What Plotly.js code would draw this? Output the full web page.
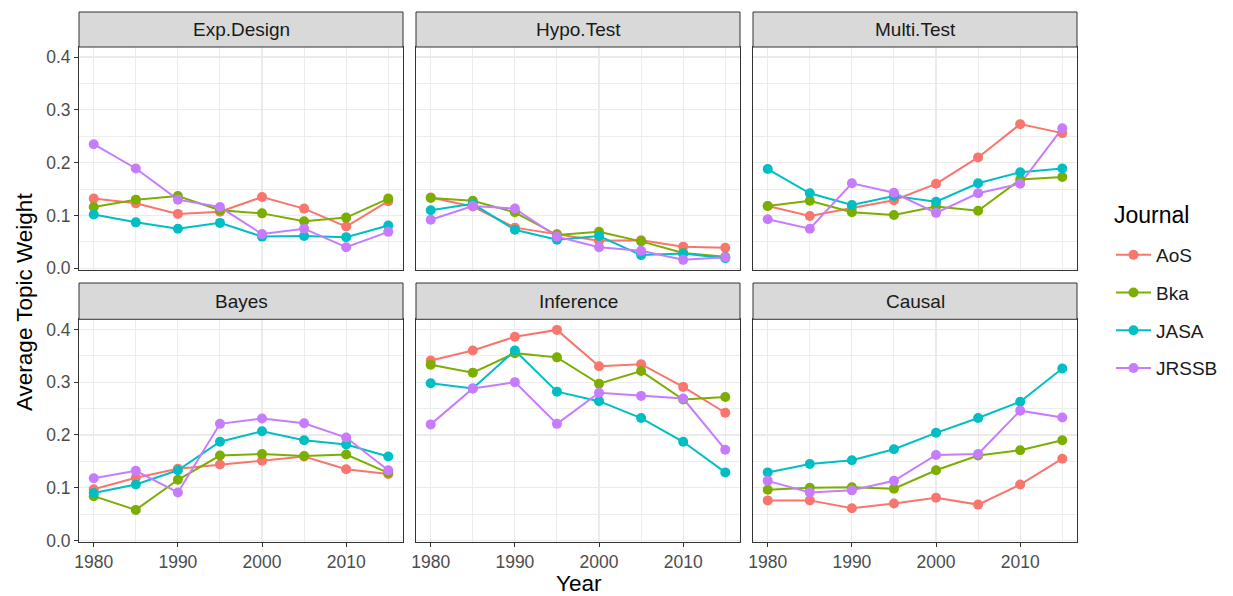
<!DOCTYPE html>
<html><head><meta charset="utf-8">
<script src="https://cdn.plot.ly/plotly-3.0.1.min.js"></script>
<style>html,body{margin:0;padding:0;background:#fff;}</style>
</head><body><div id="chart" style="width:1233px;height:596px;"></div>
<script>
// ---------- data ----------
const years = [1980, 1985, 1990, 1995, 2000, 2005, 2010, 2015];
const journals = ['AoS', 'Bka', 'JASA', 'JRSSB'];
const topics = ['Exp.Design', 'Hypo.Test', 'Multi.Test', 'Bayes', 'Inference', 'Causal'];
const yTickVals = [0, 0.1, 0.2, 0.3, 0.4];
const yTickText = ['0.0', '0.1', '0.2', '0.3', '0.4'];
const xTickVals = [1980, 1990, 2000, 2010];
const xTickText = ['1980', '1990', '2000', '2010'];

const expDesignAoS   = [0.132, 0.123, 0.103, 0.107, 0.135, 0.113, 0.079, 0.127];
const expDesignBka   = [0.116, 0.130, 0.137, 0.110, 0.104, 0.089, 0.096, 0.132];
const expDesignJASA  = [0.102, 0.087, 0.075, 0.086, 0.060, 0.061, 0.059, 0.081];
const expDesignJRSSB = [0.235, 0.189, 0.130, 0.116, 0.065, 0.075, 0.040, 0.069];

const hypoTestAoS   = [0.134, 0.117, 0.077, 0.065, 0.052, 0.053, 0.041, 0.039];
const hypoTestBka   = [0.133, 0.128, 0.106, 0.063, 0.069, 0.051, 0.029, 0.022];
const hypoTestJASA  = [0.110, 0.122, 0.073, 0.054, 0.061, 0.025, 0.028, 0.019];
const hypoTestJRSSB = [0.092, 0.118, 0.113, 0.060, 0.040, 0.033, 0.016, 0.021];

const multiTestAoS   = [0.118, 0.099, 0.114, 0.129, 0.160, 0.210, 0.273, 0.256];
const multiTestBka   = [0.118, 0.128, 0.106, 0.101, 0.117, 0.109, 0.168, 0.173];
const multiTestJASA  = [0.188, 0.142, 0.120, 0.137, 0.126, 0.161, 0.182, 0.189];
const multiTestJRSSB = [0.093, 0.075, 0.161, 0.143, 0.105, 0.142, 0.160, 0.265];

const bayesAoS   = [0.097, 0.119, 0.136, 0.144, 0.151, 0.159, 0.135, 0.126];
const bayesBka   = [0.084, 0.058, 0.115, 0.161, 0.164, 0.160, 0.163, 0.128];
const bayesJASA  = [0.090, 0.106, 0.133, 0.187, 0.207, 0.190, 0.182, 0.159];
const bayesJRSSB = [0.118, 0.132, 0.091, 0.221, 0.231, 0.222, 0.195, 0.133];

const inferenceAoS   = [0.341, 0.360, 0.386, 0.399, 0.330, 0.334, 0.291, 0.242];
const inferenceBka   = [0.333, 0.318, 0.355, 0.347, 0.297, 0.321, 0.267, 0.272];
const inferenceJASA  = [0.298, 0.288, 0.360, 0.282, 0.264, 0.232, 0.187, 0.129];
const inferenceJRSSB = [0.220, 0.288, 0.300, 0.221, 0.280, 0.274, 0.269, 0.172];

const causalAoS   = [0.076, 0.076, 0.061, 0.070, 0.081, 0.068, 0.106, 0.155];
const causalBka   = [0.096, 0.100, 0.101, 0.098, 0.133, 0.161, 0.171, 0.190];
const causalJASA  = [0.129, 0.145, 0.152, 0.173, 0.204, 0.232, 0.263, 0.326];
const causalJRSSB = [0.113, 0.091, 0.095, 0.113, 0.162, 0.164, 0.246, 0.233];

const panelData = [
  [expDesignAoS, expDesignBka, expDesignJASA, expDesignJRSSB],
  [hypoTestAoS, hypoTestBka, hypoTestJASA, hypoTestJRSSB],
  [multiTestAoS, multiTestBka, multiTestJASA, multiTestJRSSB],
  [bayesAoS, bayesBka, bayesJASA, bayesJRSSB],
  [inferenceAoS, inferenceBka, inferenceJASA, inferenceJRSSB],
  [causalAoS, causalBka, causalJASA, causalJRSSB]
];

// ---------- style / layout ----------
const colors = ['#F8766D', '#7CAE00', '#00BFC4', '#C77CFF'];
const W = 1233, H = 596;
const FONT = 'Liberation Sans, Arial, Helvetica, sans-serif';
const colPx = [[79, 403], [416, 740], [753, 1077]];
const rowPx = [[47, 269.5], [319.3, 541.7]];
const stripPx = [[12, 47], [283, 319.3]];
const px2x = p => p / W;
const px2y = p => 1 - p / H;

const traces = [];
const layout = {
  width: W, height: H,
  margin: {l: 0, r: 0, t: 0, b: 0},
  paper_bgcolor: '#ffffff', plot_bgcolor: '#ffffff',
  font: {family: FONT, color: '#4d4d4d'},
  showlegend: true,
  legend: {
    x: px2x(1111), y: px2y(236), xanchor: 'left', yanchor: 'top',
    font: {family: FONT, size: 19, color: '#1a1a1a'},
    tracegroupgap: 10, itemwidth: 35, bgcolor: 'rgba(0,0,0,0)'
  },
  shapes: [], annotations: []
};

// lines first, then points (ggplot layering)
for (let p = 0; p < 6; p++) {
  const ax = p === 0 ? '' : String(p + 1);
  for (let j = 0; j < 4; j++) {
    traces.push({
      x: years, y: panelData[p][j], xaxis: 'x' + ax, yaxis: 'y' + ax,
      type: 'scatter', mode: 'lines', name: journals[j], legendgroup: journals[j],
      showlegend: false, hoverinfo: 'skip',
      line: {color: colors[j], width: 2}
    });
  }
}
for (let p = 0; p < 6; p++) {
  const ax = p === 0 ? '' : String(p + 1);
  for (let j = 0; j < 4; j++) {
    traces.push({
      x: years, y: panelData[p][j], xaxis: 'x' + ax, yaxis: 'y' + ax,
      type: 'scatter', mode: 'markers', name: journals[j], legendgroup: journals[j],
      showlegend: false,
      marker: {color: colors[j], size: 10}
    });
  }
}
// legend entries (line + point key, no data marks)
for (let j = 0; j < 4; j++) {
  traces.push({
    x: [null], y: [null], type: 'scatter', mode: 'lines+markers',
    name: journals[j], legendgroup: journals[j], showlegend: true,
    line: {color: colors[j], width: 2}, marker: {color: colors[j], size: 10}
  });
}

for (let p = 0; p < 6; p++) {
  const r = Math.floor(p / 3), c = p % 3;
  const ax = p === 0 ? '' : String(p + 1);
  layout['xaxis' + ax] = {
    domain: [px2x(colPx[c][0]), px2x(colPx[c][1])],
    anchor: 'y' + ax, range: [1978.25, 2016.75],
    tickmode: 'array', tickvals: xTickVals, ticktext: xTickText,
    showticklabels: r === 1, ticks: r === 1 ? 'outside' : '',
    ticklen: 4, tickwidth: 1, tickcolor: '#333333',
    tickfont: {family: FONT, size: 17.5, color: '#4d4d4d'},
    showgrid: true, gridcolor: '#ebebeb', gridwidth: 1.2,
    minor: {tickmode: 'array', tickvals: [1985, 1995, 2005, 2015], showgrid: true, gridcolor: '#ebebeb', gridwidth: 0.9, ticks: ''},
    zeroline: false, showline: true, mirror: true, linecolor: '#333333', linewidth: 1,
    fixedrange: true, automargin: false
  };
  layout['yaxis' + ax] = {
    domain: [px2y(rowPx[r][1]), px2y(rowPx[r][0])],
    anchor: 'x' + ax, range: [-0.0023, 0.4191],
    tickmode: 'array', tickvals: yTickVals, ticktext: yTickText,
    showticklabels: c === 0, ticks: c === 0 ? 'outside' : '',
    ticklen: 4, tickwidth: 1, tickcolor: '#333333',
    tickfont: {family: FONT, size: 17.5, color: '#4d4d4d'},
    showgrid: true, gridcolor: '#ebebeb', gridwidth: 1.2,
    minor: {tickmode: 'array', tickvals: [0.05, 0.15, 0.25, 0.35], showgrid: true, gridcolor: '#ebebeb', gridwidth: 0.9, ticks: ''},
    zeroline: false, showline: true, mirror: true, linecolor: '#333333', linewidth: 1,
    fixedrange: true, automargin: false
  };
  // strip
  layout.shapes.push({
    type: 'rect', xref: 'paper', yref: 'paper', layer: 'above',
    x0: px2x(colPx[c][0]), x1: px2x(colPx[c][1]),
    y0: px2y(stripPx[r][1]), y1: px2y(stripPx[r][0]),
    fillcolor: '#d9d9d9', line: {color: '#333333', width: 1}
  });
  layout.annotations.push({
    xref: 'paper', yref: 'paper', showarrow: false,
    x: px2x((colPx[c][0] + colPx[c][1]) / 2), y: px2y((stripPx[r][0] + stripPx[r][1]) / 2),
    xanchor: 'center', yanchor: 'middle',
    text: topics[p], font: {family: FONT, size: 19, color: '#1a1a1a'}
  });
}
// axis titles and legend title
layout.annotations.push({
  xref: 'paper', yref: 'paper', showarrow: false,
  x: px2x(579), y: px2y(598), xanchor: 'center', yanchor: 'bottom',
  text: 'Year', font: {family: FONT, size: 22.5, color: '#000000'}
});
layout.annotations.push({
  xref: 'paper', yref: 'paper', showarrow: false, textangle: -90,
  x: px2x(24), y: px2y(302), xanchor: 'center', yanchor: 'middle',
  text: 'Average Topic Weight', font: {family: FONT, size: 22.5, color: '#000000'}
});
layout.annotations.push({
  xref: 'paper', yref: 'paper', showarrow: false,
  x: px2x(1112), y: px2y(215), xanchor: 'left', yanchor: 'middle',
  text: 'Journal', font: {family: FONT, size: 23, color: '#000000'}
});

Plotly.newPlot('chart', traces, layout, {displayModeBar: false, staticPlot: true});
</script>
</body></html>
